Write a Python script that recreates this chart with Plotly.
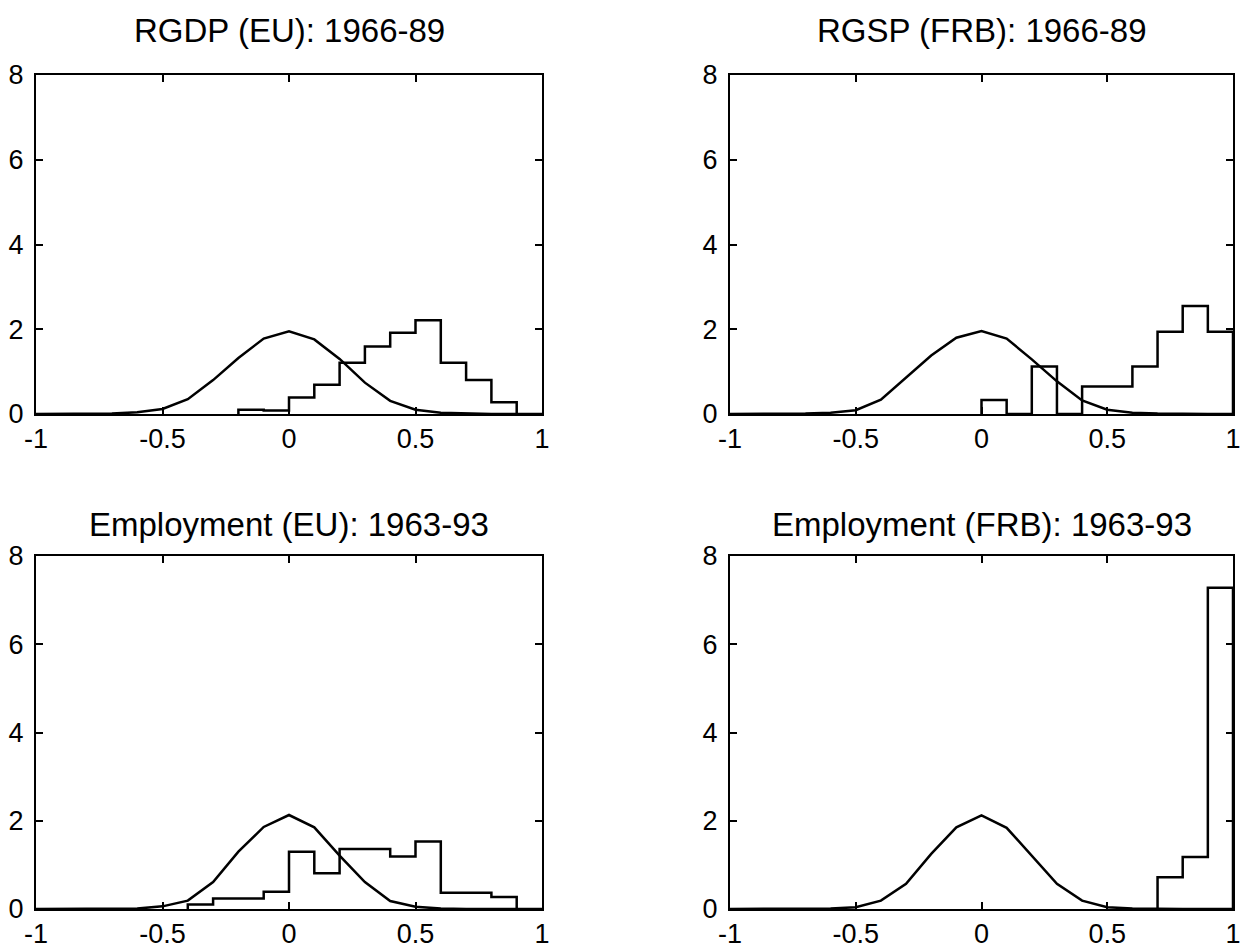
import plotly.graph_objects as go

# ---------------- data ----------------
titles = ["RGDP (EU): 1966-89", "RGSP (FRB): 1966-89",
          "Employment (EU): 1963-93", "Employment (FRB): 1963-93"]

curve_x = [-1.0, -0.9, -0.8, -0.7, -0.6, -0.5, -0.4, -0.3, -0.2, -0.1, 0.0,
           0.1, 0.2, 0.3, 0.4, 0.5, 0.6, 0.7, 0.8, 0.9, 1.0]
curve1 = [0, 0, 0, 0.01, 0.04, 0.12, 0.35, 0.80, 1.32, 1.78, 1.95,
          1.76, 1.30, 0.74, 0.31, 0.10, 0.03, 0.01, 0, 0, 0]
curve2 = [0, 0, 0, 0.01, 0.03, 0.09, 0.34, 0.85, 1.38, 1.80, 1.96,
          1.78, 1.29, 0.77, 0.32, 0.10, 0.03, 0.01, 0, 0, 0]
curve3 = [0, 0, 0, 0, 0.01, 0.06, 0.19, 0.61, 1.30, 1.86, 2.13,
          1.85, 1.21, 0.61, 0.18, 0.05, 0.01, 0, 0, 0, 0]
curve4 = [0, 0, 0, 0, 0.01, 0.04, 0.19, 0.57, 1.25, 1.85, 2.12,
          1.84, 1.21, 0.57, 0.19, 0.04, 0.01, 0, 0, 0, 0]

# histogram bins: first left edge, width 0.1, contiguous heights
hist1_start = -0.2
hist1_val = [0.10, 0.08, 0.39, 0.69, 1.21, 1.59, 1.92, 2.21, 1.21, 0.80, 0.28]

hist2_start = 0.0
hist2_val = [0.33, 0.0, 1.12, 0.0, 0.65, 0.65, 1.12, 1.94, 2.55, 1.94]

hist3_start = -0.4
hist3_val = [0.10, 0.24, 0.24, 0.39, 1.30, 0.81, 1.36, 1.36, 1.19, 1.53, 0.37, 0.37, 0.27]

hist4_start = 0.7
hist4_val = [0.72, 1.18, 7.28]

x_ticks = [-1, -0.5, 0, 0.5, 1]
x_tick_text = ["-1", "-0.5", "0", "0.5", "1"]
y_ticks = [0, 2, 4, 6, 8]
y_tick_text = ["0", "2", "4", "6", "8"]
bin_width = 0.1

curves = [curve1, curve2, curve3, curve4]
hists = [(hist1_start, hist1_val), (hist2_start, hist2_val),
         (hist3_start, hist3_val), (hist4_start, hist4_val)]

# ---------------- layout geometry ----------------
W, H = 1252, 952
x_domains = [(36 / W, 542 / W), (730 / W, 1233 / W)]
y_domains = [(1 - 414 / H, 1 - 75 / H), (1 - 909 / H, 1 - 556 / H)]
title_y = [1 - 31 / H, 1 - 524 / H]

FONT = "Liberation Sans, Arial, sans-serif"
TICK_SIZE = 27

fig = go.Figure()
layout = dict(template="none", width=W, height=H,
              margin=dict(l=0, r=0, t=0, b=0, pad=0, autoexpand=False),
              paper_bgcolor="white", plot_bgcolor="white",
              showlegend=False,
              font=dict(family=FONT, color="black", size=TICK_SIZE))
annotations = []

for i in range(4):
    row, col = divmod(i, 2)
    n = "" if i == 0 else str(i + 1)
    xa, ya = "x" + n, "y" + n
    start, vals = hists[i]
    edges = [round(start + k * bin_width, 6) for k in range(len(vals) + 1)]
    # stairs outline: up from 0 at first edge, across each bin, down to 0 at the end
    sx = [edges[0]] + edges
    sy = [0] + list(vals) + [0]
    fig.add_trace(go.Scatter(x=sx, y=sy, mode="lines", line_shape="hv",
                             line=dict(color="black", width=2.5),
                             xaxis=xa, yaxis=ya, hoverinfo="skip"))
    fig.add_trace(go.Scatter(x=curve_x, y=curves[i], mode="lines",
                             line=dict(color="black", width=2.5),
                             xaxis=xa, yaxis=ya, hoverinfo="skip"))
    axcommon = dict(showline=True, linecolor="black", linewidth=2,
                    mirror="ticks", ticks="inside", ticklen=7, tickwidth=2,
                    tickcolor="black", showgrid=False, zeroline=False,
                    automargin=False,
                    tickfont=dict(family=FONT, size=TICK_SIZE, color="black"))
    layout["xaxis" + n] = dict(domain=x_domains[col], range=[-1, 1],
                               tickvals=x_ticks, ticktext=x_tick_text,
                               anchor=ya, **axcommon)
    layout["yaxis" + n] = dict(domain=y_domains[row], range=[0, 8],
                               tickvals=y_ticks, ticktext=y_tick_text,
                               anchor=xa, ticklabelstandoff=5, **axcommon)
    xc = (x_domains[col][0] + x_domains[col][1]) / 2
    annotations.append(dict(text=titles[i], x=xc, xref="paper",
                            y=title_y[row], yref="paper",
                            xanchor="center", yanchor="middle",
                            showarrow=False,
                            font=dict(family=FONT, size=33, color="black")))

layout["annotations"] = annotations
fig.update_layout(**layout)
fig.write_html("out.html")
